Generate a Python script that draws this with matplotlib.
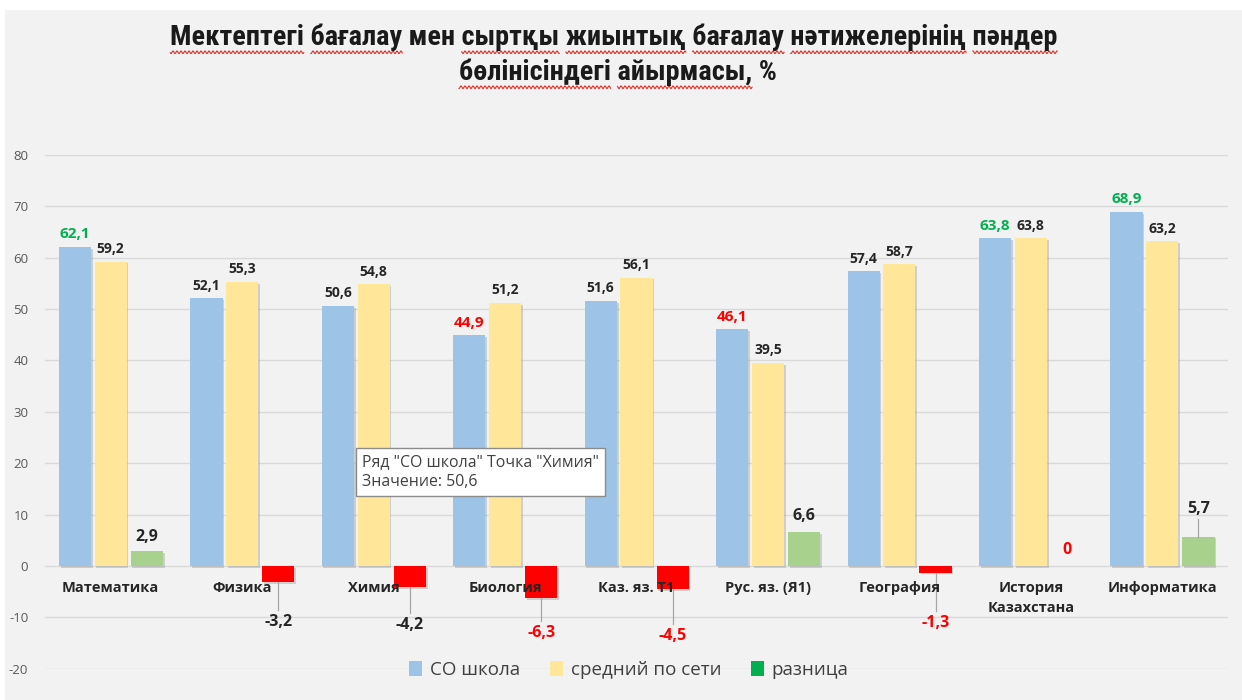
import numpy as np
import matplotlib
matplotlib.use('Agg')
import matplotlib.pyplot as plt
import matplotlib.patheffects as pe
from matplotlib import font_manager
from matplotlib.patches import Patch, Rectangle
from matplotlib.lines import Line2D
from matplotlib.transforms import IdentityTransform

# --- data ---
categories = ['Математика', 'Физика', 'Химия', 'Биология', 'Каз. яз. Т1',
              'Рус. яз. (Я1)', 'География', 'История\nКазахстана', 'Информатика']
school = [62.1, 52.1, 50.6, 44.9, 51.6, 46.1, 57.4, 63.8, 68.9]
network = [59.2, 55.3, 54.8, 51.2, 56.1, 39.5, 58.7, 63.8, 63.2]
diff = [2.9, -3.2, -4.2, -6.3, -4.5, 6.6, -1.3, 0.0, 5.7]
yticks = [-20, -10, 0, 10, 20, 30, 40, 50, 60, 70, 80]
series_names = ['СО школа', 'средний по сети', 'разница']

# label colours / hand-placed label heights as in the source (Excel) chart
school_label_colors = ['g', 'k', 'k', 'r', 'k', 'r', 'k', 'g', 'g']
diff_label_colors = ['k', 'k', 'k', 'r', 'r', 'k', 'r', 'r', 'k']
diff_label_y = [5.7, -10.9, -11.5, -13.1, -13.6, 9.7, -11.1, 3.1, 11.1]

BLUE = '#9DC3E6'
YELLOW = '#FFE699'
LGREEN = '#A9D18E'
RED = '#FF0000'
TXT = {'g': '#00B050', 'r': '#FF0000', 'k': '#262626'}

plt.rcParams['font.family'] = ['Open Sans', 'DejaVu Sans']

# narrow face for the title if there is one (original is Calibri bold)
installed = {f.name for f in font_manager.fontManager.ttflist}
title_face = next((n for n in ['Liberation Sans Narrow', 'Roboto Condensed', 'Open Sans Condensed', 'Roboto']
                   if n in installed), 'DejaVu Sans')


def fmt(v):
    return f'{v:g}'.replace('.', ',')


fig = plt.figure(figsize=(12.42, 7.0), dpi=100, facecolor='white')
# grey chart area (the top strip of the screenshot is page background)
fig.add_artist(Rectangle((5 / 1242, 0), 1, 1 - 10 / 700, transform=fig.transFigure,
                         facecolor='#F2F2F2', edgecolor='none', zorder=-10))

ax = fig.add_axes([45 / 1242, 1 - 668.6 / 700, 1183 / 1242, 513.6 / 700])
ax.set_facecolor('none')
ax.set_xlim(-0.5, len(categories) - 0.5)
ax.set_ylim(-20, 80)
ax.set_yticks(yticks)
ax.set_yticklabels([str(t) for t in yticks], fontsize=9.5, color='#595959')
ax.tick_params(axis='y', length=0, pad=12)
ax.set_xticks([])
for s in ax.spines.values():
    s.set_visible(False)
ax.grid(axis='y', color='#D9D9D9', lw=1)
ax.set_axisbelow(True)

x = np.arange(len(categories))
w = 0.245
shadow = [pe.SimplePatchShadow(offset=(1.2, -1.2), shadow_rgbFace='#9a9a9a', alpha=0.4),
          pe.Normal()]

b1 = ax.bar(x - 0.272, school, w, color=BLUE, zorder=3)
b2 = ax.bar(x, network, w, color=YELLOW, zorder=3)
b3 = ax.bar(x + 0.275, diff, w, color=[LGREEN if v > 0 else RED for v in diff], zorder=3)
for b in list(b1) + list(b2) + list(b3):
    b.set_path_effects(shadow)

for xi, v, c in zip(x - 0.272, school, school_label_colors):
    ax.annotate(fmt(v), (xi, v), xytext=(0, 4), textcoords='offset points',
                ha='center', va='bottom', fontweight='bold',
                fontsize=11 if c != 'k' else 10, color=TXT[c])
for xi, v in zip(x, network):
    ax.annotate(fmt(v), (xi, v), xytext=(0, 4), textcoords='offset points',
                ha='center', va='bottom', fontweight='bold', fontsize=10, color=TXT['k'])
for xi, v, ly, c in zip(x + 0.275, diff, diff_label_y, diff_label_colors):
    ax.text(xi, ly, fmt(v), ha='center', va='center', fontweight='bold',
            fontsize=11.5, color=TXT[c], zorder=5)
    if v < 0:
        ax.plot([xi, xi], [v, ly + 2.3], color='#A6A6A6', lw=0.9, zorder=4)
    elif ly - v > 4:
        ax.plot([xi, xi], [v, ly - 1.9], color='#A6A6A6', lw=0.9, zorder=4)

for xi, lab in zip(x, categories):
    ax.annotate(lab, (xi, 0), xytext=(0, -11), textcoords='offset points',
                ha='center', va='top', fontweight='bold', fontsize=10.5,
                color='#262626', linespacing=1.5, zorder=4)

# tooltip left on the screenshot
fig.text(362 / 1242, 1 - 472 / 700, 'Ряд "СО школа" Точка "Химия"\nЗначение: 50,6',
         ha='left', va='center', fontsize=11.4, color='#404040', linespacing=1.25,
         bbox=dict(boxstyle='square,pad=0.4', facecolor='white', edgecolor='#8C8C8C', lw=1),
         zorder=10)

handles = [Patch(facecolor=BLUE), Patch(facecolor=YELLOW), Patch(facecolor='#00B050')]
fig.legend(handles, series_names, loc='center', bbox_to_anchor=(629 / 1242, 1 - 670 / 700),
           ncol=3, frameon=False, fontsize=13.5, labelcolor='#404040',
           handlelength=0.7, handleheight=0.9, handletextpad=0.4, columnspacing=1.6)

title_font = dict(ha='center', va='center', fontsize=18, fontweight='bold', color='#1a1a1a',
                  family=[title_face, 'DejaVu Sans'])
t1 = fig.text(614 / 1242, 1 - 37 / 700,
              'Мектептегі бағалау мен сыртқы жиынтық бағалау нәтижелерінің пәндер', **title_font)
t2 = fig.text(618 / 1242, 1 - 72 / 700, 'бөлінісіндегі айырмасы, %', **title_font)

# fit the first title line to its width in the screenshot (~888 px)
fig.canvas.draw()
fs = 18 * 888 / t1.get_window_extent().width
t1.set_fontsize(fs)
t2.set_fontsize(fs)


def squiggle(txt, words):
    """Red spell-check waves under the given words, as in the Word screenshot."""
    fig.canvas.draw()
    r = fig.canvas.get_renderer()
    bb = txt.get_window_extent(r)
    s = txt.get_text()
    fp = txt.get_fontproperties()
    width = lambda u: r.get_text_width_height_descent(u, fp, ismath=False)[0]
    start = 0
    for word in words:
        i = s.index(word, start)
        start = i + len(word)
        x1 = bb.x0 + width(s[:start])
        x0 = x1 - width(word)
        xs = np.arange(x0, x1, 0.5)
        ys = bb.y0 - 1.5 + 1.3 * np.sin(xs * 2 * np.pi / 4.0)
        fig.add_artist(Line2D(xs, ys, transform=IdentityTransform(), color='#E0302A', lw=0.8))


squiggle(t1, ['Мектептегі', 'бағалау', 'сыртқы', 'жиынтық', 'бағалау', 'нәтижелерінің', 'пәндер'])
squiggle(t2, ['бөлінісіндегі', 'айырмасы,'])

fig.savefig('out.png', dpi=100, facecolor='white')
